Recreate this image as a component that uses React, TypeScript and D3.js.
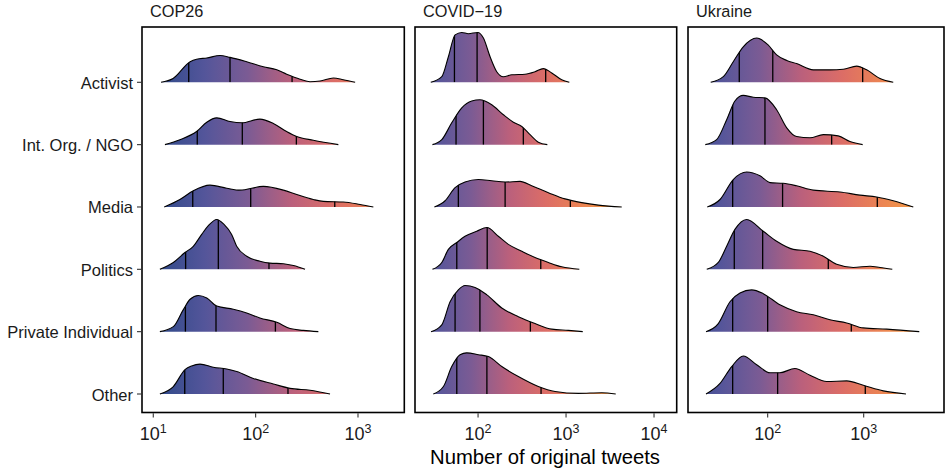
import React from 'react';
import * as d3 from 'd3';

type Pt = [number, number]; // [number of original tweets, relative density (1 = one row step)]

const categories = ['Activist', 'Int. Org. / NGO', 'Media', 'Politics', 'Private Individual', 'Other'];
const facetNames = ['COP26', 'COVID\u221219', 'Ukraine'];

// ---- COP26 ----
const cop26Activist: Pt[] = [[11.9,0],[15.6,.06],[22.9,.33],[26.5,.37],[33.3,.39],[44.9,.43],[56.2,.40],[81.8,.33],[119,.25],[161,.20],[201,.13],[272,.05],[340,.01],[426,.02],[575,.07],[719,.04],[938,0]];
const cop26IntOrg: Pt[] = [[13.0,0],[18.2,.08],[26.5,.21],[33.3,.36],[41.7,.43],[56.2,.37],[73.1,.35],[110,.41],[149,.34],[201,.21],[252,.13],[366,.07],[643,0]];
const cop26Media: Pt[] = [[12.8,0],[18.2,.12],[24.6,.26],[35.8,.35],[52.2,.30],[70.4,.27],[119,.33],[187,.27],[252,.20],[366,.12],[459,.09],[719,.08],[1047,.04],[1413,0]];
const cop26Politics: Pt[] = [[11.6,0],[15.7,.11],[20.4,.27],[24.6,.37],[29.7,.56],[34.5,.70],[41.7,.80],[49.1,.72],[58.3,.56],[65.3,.37],[81.8,.21],[110,.13],[138,.10],[187,.09],[234,.06],[304,0]];
const cop26Private: Pt[] = [[11.6,0],[15.7,.08],[19.6,.35],[22.9,.52],[27.5,.58],[33.3,.54],[41.7,.41],[60.5,.36],[81.8,.30],[110,.22],[161,.15],[217,.05],[292,.02],[410,0]];
const cop26Other: Pt[] = [[11.6,0],[15.7,.12],[20.4,.39],[23.7,.45],[28.6,.48],[38.6,.43],[52.2,.40],[65.3,.36],[94.9,.25],[149,.16],[217,.09],[340,.06],[533,0]];
const cop26Quartiles = [[22.2,56.2,227],[26.9,74.1,250],[24.3,89.5,593],[20.7,43.2,135],[20.6,41.0,156],[20.3,48.3,207]];
const cop26Domain = [7.76, 2834];
const cop26Ticks = [10, 100, 1000];

// ---- COVID-19 ----
const covidActivist: Pt[] = [[29.0,0],[38.7,.09],[46.0,.41],[54.8,.76],[65.3,.80],[77.6,.78],[99.2,.80],[115,.71],[137,.41],[163,.17],[194,.09],[242,.12],[342,.13],[444,.17],[552,.22],[688,.15],[893,.04],[1090,0]];
const covidIntOrg: Pt[] = [[30.3,0],[38.7,.08],[50.2,.35],[65.3,.59],[84.8,.70],[105,.72],[143,.64],[194,.48],[252,.36],[314,.29],[390,.16],[484,.04],[613,0]];
const covidMedia: Pt[] = [[31.9,0],[42.2,.10],[54.8,.31],[71.1,.40],[101,.44],[143,.42],[203,.40],[300,.41],[407,.34],[630,.23],[974,.13],[1507,.07],[2328,.03],[4295,0]];
const covidPolitics: Pt[] = [[30.3,0],[38.7,.11],[46.0,.32],[57.3,.43],[71.1,.53],[96.6,.61],[126,.67],[170,.53],[221,.40],[314,.29],[444,.19],[630,.11],[893,.04],[1416,0]];
const covidPrivate: Pt[] = [[29.2,0],[38.7,.11],[48.1,.48],[59.7,.67],[71.1,.74],[92.5,.71],[126,.59],[186,.38],[287,.24],[444,.13],[688,.04],[1062,.02],[1549,0]];
const covidOther: Pt[] = [[31.0,0],[40.4,.12],[50.2,.44],[62.4,.63],[74.4,.66],[101,.63],[131,.60],[186,.44],[287,.28],[484,.12],[750,.04],[1380,.01],[2547,.02],[3673,0]];
const covidQuartiles = [[53.9,97.5,587],[56.2,115,327],[59.7,203,1119],[57.3,127,516],[54.8,105,393],[57.3,126,520]];
const covidDomain = [19.2, 18100];
const covidTicks = [100, 1000, 10000];

// ---- Ukraine ----
const ukraineActivist: Pt[] = [[25.5,0],[34.5,.09],[43.8,.33],[55.7,.57],[76.8,.71],[101,.60],[124,.44],[158,.35],[200,.30],[299,.20],[445,.20],[613,.21],[845,.26],[1074,.20],[1479,.06],[2032,0]];
const ukraineIntOrg: Pt[] = [[22.4,0],[29.4,.08],[37.4,.40],[45.6,.70],[55.7,.79],[70.8,.76],[93.7,.75],[124,.56],[158,.27],[200,.13],[276,.11],[380,.16],[543,.14],[719,.05],[976,0]];
const ukraineMedia: Pt[] = [[23.5,0],[31.9,.12],[43.8,.44],[60.4,.56],[83.1,.50],[106,.39],[145,.38],[200,.34],[299,.27],[566,.24],[914,.19],[1365,.16],[2032,.10],[3286,0]];
const ukrainePolitics: Pt[] = [[23.2,0],[30.6,.11],[37.4,.37],[45.6,.64],[60.4,.80],[90.0,.61],[124,.45],[185,.32],[276,.29],[380,.21],[523,.08],[779,.03],[1163,.05],[1478,.03],[1986,0]];
const ukrainePrivate: Pt[] = [[22.8,0],[30.6,.13],[40.5,.48],[51.5,.62],[68.1,.67],[90.0,.61],[134,.43],[200,.32],[299,.27],[445,.19],[665,.14],[991,.06],[1736,.04],[3794,0]];
const ukraineOther: Pt[] = [[22.8,0],[31.9,.17],[42.2,.44],[55.7,.61],[76.8,.47],[106,.34],[134,.34],[192,.41],[276,.30],[412,.20],[665,.21],[991,.14],[1600,.05],[2758,0]];
const ukraineQuartiles = [[50.6,113,976],[43.2,93.7,464],[43.2,143,1386],[44.9,88.7,428],[43.2,100,743],[43.2,127,1039]];
const ukraineDomain = [14.8, 6862];
const ukraineTicks = [100, 1000];

const palette = ['#304a8a', '#53559a', '#7b5b94', '#ba607c', '#dc6d66', '#ec8552', '#f5a03f'];

const W = 945;
const H = 468;
const FONT = '"Liberation Sans", Arial, Helvetica, sans-serif';

const panels = [
  { name: facetNames[0], left: 142, right: 404.3, domain: cop26Domain, ticks: cop26Ticks, ridges: [cop26Activist, cop26IntOrg, cop26Media, cop26Politics, cop26Private, cop26Other], quartiles: cop26Quartiles },
  { name: facetNames[1], left: 415, right: 676.7, domain: covidDomain, ticks: covidTicks, ridges: [covidActivist, covidIntOrg, covidMedia, covidPolitics, covidPrivate, covidOther], quartiles: covidQuartiles },
  { name: facetNames[2], left: 688, right: 944, domain: ukraineDomain, ticks: ukraineTicks, ridges: [ukraineActivist, ukraineIntOrg, ukraineMedia, ukrainePolitics, ukrainePrivate, ukraineOther], quartiles: ukraineQuartiles },
];

const panelTop = 27;
const panelBottom = 412.5;

export default function App() {
  const yPos = d3.scalePoint<string>().domain(categories).range([82.3, 394]);
  const step = yPos.step();
  const hScale = d3.scaleLinear().domain([0, 1]).range([0, step]);

  const allX = panels.flatMap(p => p.ridges.flatMap(r => r.map(d => d[0])));
  const cMin = d3.min(allX) as number;
  const cMax = d3.max(allX) as number;
  const colorScale = d3.scaleSequentialLog(d3.piecewise(d3.interpolateRgb, palette)).domain([cMin, cMax]);
  const nStops = 24;
  const stops = d3.range(nStops + 1).map(k => {
    const t = k / nStops;
    const v = Math.pow(10, Math.log10(cMin) + t * (Math.log10(cMax) - Math.log10(cMin)));
    return { offset: t, color: colorScale(v) };
  });

  return (
    <div style={{ position: 'absolute', left: 0, top: 0 }}>
      <svg width={W} height={H} style={{ display: 'block', background: '#fff' }} fontFamily={FONT}>
        <rect x={0} y={0} width={W} height={H} fill="#fff" />
        {panels.map((p, pi) => {
          const x = d3.scaleLog().domain(p.domain).range([p.left, p.right]);
          return (
            <g key={p.name}>
              <defs>
                <linearGradient id={`grad${pi}`} gradientUnits="userSpaceOnUse" x1={x(cMin)} x2={x(cMax)} y1={0} y2={0}>
                  {stops.map((s, si) => (
                    <stop key={si} offset={s.offset} stopColor={s.color} />
                  ))}
                </linearGradient>
                {p.ridges.map((r, ri) => {
                  const base = yPos(categories[ri]) as number;
                  const area = d3.area<Pt>().x(d => x(d[0])).y0(base).y1(d => base - hScale(d[1])).curve(d3.curveMonotoneX);
                  return (
                    <clipPath key={ri} id={`clip${pi}_${ri}`}>
                      <path d={area(r) as string} />
                    </clipPath>
                  );
                })}
              </defs>
              <text x={p.left + 8} y={16.7} fontSize={16.3} fill="#1a1a1a">{p.name}</text>
              {p.ridges.map((r, ri) => {
                const base = yPos(categories[ri]) as number;
                const area = d3.area<Pt>().x(d => x(d[0])).y0(base).y1(d => base - hScale(d[1])).curve(d3.curveMonotoneX);
                const line = d3.line<Pt>().x(d => x(d[0])).y(d => base - hScale(d[1])).curve(d3.curveMonotoneX);
                return (
                  <g key={ri}>
                    <path d={area(r) as string} fill={`url(#grad${pi})`} stroke="none" />
                    <g clipPath={`url(#clip${pi}_${ri})`}>
                      {p.quartiles[ri].map((q, qi) => (
                        <line key={qi} x1={x(q)} x2={x(q)} y1={base} y2={base - step} stroke="#000" strokeWidth={1.3} />
                      ))}
                    </g>
                    <path d={line(r) as string} fill="none" stroke="#000" strokeWidth={1.1} strokeLinejoin="round" />
                  </g>
                );
              })}
              <rect x={p.left} y={panelTop} width={p.right - p.left} height={panelBottom - panelTop} fill="none" stroke="#000" strokeWidth={1.6} />
              {p.ticks.map(t => (
                <g key={t}>
                  <line x1={x(t)} x2={x(t)} y1={panelBottom + 0.8} y2={panelBottom + 5} stroke="#333" strokeWidth={1.1} />
                  <text x={x(t)} y={440} textAnchor="middle" fontSize={18} fill="#1a1a1a">
                    <tspan>10</tspan>
                    <tspan dy={-7.5} fontSize={12.5}>{Math.round(Math.log10(t))}</tspan>
                  </text>
                </g>
              ))}
            </g>
          );
        })}
        {categories.map(c => {
          const y = yPos(c) as number;
          return (
            <g key={c}>
              <line x1={137} x2={141.2} y1={y} y2={y} stroke="#333" strokeWidth={1.1} />
              <text x={133} y={y + 6.5} textAnchor="end" fontSize={16.5} fill="#1a1a1a">{c}</text>
            </g>
          );
        })}
        <text x={545} y={463.5} textAnchor="middle" fontSize={20.3} fill="#000">Number of original tweets</text>
      </svg>
    </div>
  );
}
